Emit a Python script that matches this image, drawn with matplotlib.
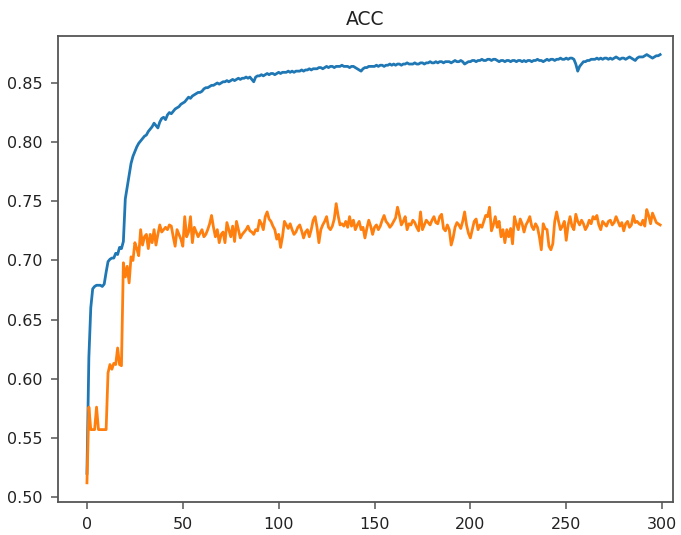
import matplotlib
matplotlib.use("Agg")
import matplotlib.pyplot as plt

# Training accuracy per epoch
train_acc = [
    0.520, 0.618, 0.660, 0.676, 0.678, 0.679, 0.679, 0.679, 0.678, 0.680,
    0.690, 0.699, 0.701, 0.702, 0.702, 0.706, 0.705, 0.711, 0.710, 0.716,
    0.752, 0.762, 0.772, 0.782, 0.788, 0.792, 0.796, 0.799, 0.801, 0.803,
    0.805, 0.806, 0.809, 0.811, 0.813, 0.816, 0.814, 0.812, 0.817, 0.820,
    0.821, 0.819, 0.823, 0.825, 0.824, 0.826, 0.828, 0.829, 0.830, 0.832,
    0.833, 0.834, 0.836, 0.838, 0.837, 0.839, 0.840, 0.841, 0.842, 0.842,
    0.843, 0.845, 0.846, 0.846, 0.847, 0.848, 0.848, 0.849, 0.850, 0.849,
    0.850, 0.851, 0.851, 0.852, 0.851, 0.852, 0.853, 0.852, 0.853, 0.854,
    0.853, 0.854, 0.854, 0.855, 0.854, 0.855, 0.853, 0.851, 0.855, 0.856,
    0.856, 0.857, 0.856, 0.857, 0.858, 0.857, 0.858, 0.858, 0.857, 0.858,
    0.859, 0.858, 0.859, 0.859, 0.859, 0.860, 0.859, 0.860, 0.859, 0.860,
    0.860, 0.860, 0.861, 0.860, 0.861, 0.861, 0.862, 0.861, 0.862, 0.862,
    0.862, 0.863, 0.863, 0.862, 0.863, 0.864, 0.863, 0.864, 0.864, 0.863,
    0.864, 0.864, 0.864, 0.865, 0.864, 0.864, 0.864, 0.863, 0.864, 0.864,
    0.863, 0.862, 0.861, 0.860, 0.862, 0.863, 0.863, 0.864, 0.864, 0.864,
    0.864, 0.865, 0.864, 0.865, 0.865, 0.864, 0.865, 0.865, 0.866, 0.865,
    0.866, 0.865, 0.866, 0.866, 0.865, 0.866, 0.866, 0.867, 0.866, 0.866,
    0.866, 0.867, 0.866, 0.866, 0.867, 0.867, 0.866, 0.867, 0.867, 0.868,
    0.867, 0.867, 0.868, 0.867, 0.868, 0.868, 0.867, 0.868, 0.868, 0.868,
    0.867, 0.868, 0.869, 0.868, 0.868, 0.869, 0.868, 0.866, 0.867, 0.868,
    0.868, 0.869, 0.869, 0.868, 0.869, 0.869, 0.870, 0.869, 0.869, 0.870,
    0.870, 0.869, 0.870, 0.870, 0.869, 0.868, 0.869, 0.869, 0.868, 0.869,
    0.869, 0.868, 0.869, 0.869, 0.868, 0.869, 0.869, 0.868, 0.869, 0.868,
    0.869, 0.869, 0.868, 0.869, 0.869, 0.870, 0.869, 0.869, 0.868, 0.869,
    0.870, 0.869, 0.870, 0.870, 0.869, 0.870, 0.870, 0.871, 0.870, 0.870,
    0.871, 0.870, 0.871, 0.871, 0.870, 0.866, 0.860, 0.864, 0.866, 0.868,
    0.868, 0.869, 0.869, 0.870, 0.870, 0.870, 0.871, 0.870, 0.871, 0.870,
    0.871, 0.871, 0.870, 0.871, 0.870, 0.871, 0.872, 0.871, 0.870, 0.871,
    0.871, 0.870, 0.871, 0.872, 0.871, 0.870, 0.869, 0.871, 0.872, 0.872,
    0.872, 0.873, 0.874, 0.873, 0.872, 0.871, 0.872, 0.873, 0.873, 0.874,
]

# Validation accuracy per epoch
val_acc = [
    0.512, 0.576, 0.557, 0.557, 0.557, 0.576, 0.557, 0.557, 0.557, 0.557,
    0.557, 0.605, 0.612, 0.608, 0.613, 0.612, 0.626, 0.612, 0.611, 0.698,
    0.686, 0.695, 0.681, 0.703, 0.700, 0.715, 0.710, 0.704, 0.726, 0.713,
    0.720, 0.722, 0.710, 0.722, 0.715, 0.726, 0.713, 0.722, 0.730, 0.724,
    0.726, 0.728, 0.726, 0.730, 0.729, 0.720, 0.712, 0.726, 0.722, 0.718,
    0.712, 0.737, 0.720, 0.724, 0.737, 0.715, 0.728, 0.724, 0.720, 0.723,
    0.726, 0.720, 0.722, 0.726, 0.731, 0.738, 0.728, 0.720, 0.726, 0.715,
    0.722, 0.724, 0.715, 0.732, 0.726, 0.720, 0.729, 0.716, 0.733, 0.726,
    0.719, 0.722, 0.724, 0.726, 0.729, 0.725, 0.724, 0.722, 0.726, 0.725,
    0.734, 0.731, 0.726, 0.737, 0.741, 0.735, 0.733, 0.729, 0.726, 0.718,
    0.722, 0.711, 0.720, 0.733, 0.730, 0.727, 0.731, 0.726, 0.722, 0.724,
    0.728, 0.730, 0.725, 0.719, 0.724, 0.726, 0.720, 0.726, 0.734, 0.737,
    0.728, 0.715, 0.726, 0.730, 0.733, 0.737, 0.728, 0.726, 0.729, 0.735,
    0.748, 0.738, 0.730, 0.731, 0.729, 0.733, 0.728, 0.737, 0.729, 0.734,
    0.726, 0.730, 0.733, 0.726, 0.728, 0.719, 0.727, 0.734, 0.729, 0.722,
    0.728, 0.730, 0.726, 0.729, 0.734, 0.738, 0.733, 0.731, 0.728, 0.730,
    0.733, 0.736, 0.745, 0.738, 0.730, 0.733, 0.737, 0.726, 0.731, 0.730,
    0.734, 0.732, 0.728, 0.725, 0.741, 0.726, 0.730, 0.734, 0.732, 0.730,
    0.734, 0.737, 0.732, 0.731, 0.737, 0.739, 0.727, 0.725, 0.730, 0.726,
    0.713, 0.719, 0.728, 0.732, 0.730, 0.727, 0.733, 0.741, 0.730, 0.723,
    0.719, 0.726, 0.733, 0.735, 0.726, 0.730, 0.728, 0.733, 0.738, 0.737,
    0.745, 0.725, 0.730, 0.737, 0.728, 0.733, 0.720, 0.726, 0.715, 0.726,
    0.720, 0.727, 0.714, 0.737, 0.731, 0.726, 0.735, 0.731, 0.724, 0.730,
    0.733, 0.737, 0.729, 0.726, 0.731, 0.728, 0.720, 0.709, 0.731, 0.727,
    0.726, 0.712, 0.709, 0.714, 0.733, 0.741, 0.733, 0.726, 0.729, 0.733,
    0.717, 0.730, 0.737, 0.729, 0.726, 0.739, 0.733, 0.730, 0.734, 0.731,
    0.726, 0.729, 0.734, 0.731, 0.737, 0.735, 0.738, 0.730, 0.726, 0.733,
    0.731, 0.729, 0.733, 0.734, 0.730, 0.732, 0.737, 0.733, 0.729, 0.732,
    0.725, 0.731, 0.733, 0.728, 0.730, 0.738, 0.732, 0.733, 0.731, 0.730,
    0.734, 0.729, 0.743, 0.738, 0.731, 0.740, 0.736, 0.732, 0.731, 0.730,
]

x_ticks = [0, 50, 100, 150, 200, 250, 300]
y_ticks = [0.50, 0.55, 0.60, 0.65, 0.70, 0.75, 0.80, 0.85]

epochs = list(range(len(train_acc)))

W, H = 681, 535
fig = plt.figure(figsize=(W / 100, H / 100), dpi=100)
ax = fig.add_axes([58 / W, (H - 502) / H, (673 - 58) / W, (502 - 36) / H])

ax.plot(epochs, train_acc, color="#1f77b4", linewidth=2.0)
ax.plot(epochs, val_acc, color="#ff7f0e", linewidth=2.0)

ax.set_xlim(-15.1, 305.7)
ax.set_ylim(0.4958, 0.8897)
ax.set_xticks(x_ticks)
ax.set_yticks(y_ticks)
ax.set_yticklabels([f"{v:.2f}" for v in y_ticks])

for s in ax.spines.values():
    s.set_color("#555555")
    s.set_linewidth(1.3)
ax.tick_params(axis="both", labelsize=11.5, length=5, width=1.1,
               color="#555555", labelcolor="#222222", pad=6)

ax.set_title("ACC", fontsize=13.5, color="#222222", pad=8)

fig.savefig("out.png", dpi=100)
